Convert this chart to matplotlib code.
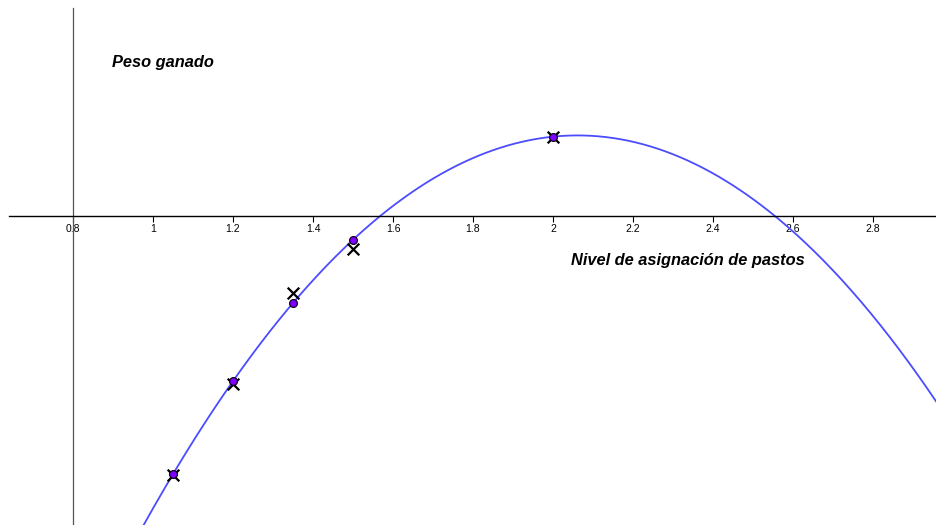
import matplotlib
matplotlib.use('Agg')
import matplotlib.pyplot as plt
import numpy as np

# nivel de asignacion de pastos (x) and peso ganado (y, arbitrary units)
x_data = [1.05, 1.2, 1.35, 1.5, 2.0]
y_observed = [-0.648, -0.421, -0.194, -0.084, 0.1975]
y_fitted = [-0.646, -0.413, -0.218, -0.0605, 0.1975]
x_ticks = [0.8, 1.0, 1.2, 1.4, 1.6, 1.8, 2.0, 2.2, 2.4, 2.6, 2.8]
x_ticklabels = ['0.8', '1', '1.2', '1.4', '1.6', '1.8', '2', '2.2', '2.4', '2.6', '2.8']

plt.rcParams['font.family'] = ['Liberation Sans', 'DejaVu Sans']

fig = plt.figure(figsize=(9.36, 5.25), dpi=100)
ax = fig.add_axes([0, 0, 1, 1])
ax.set_xlim(0.6175, 2.9575)
ax.set_ylim(-0.773, 0.539)

# quadratic through the fitted values
coef = np.polyfit(x_data, y_fitted, 2)
xs = np.linspace(0.6175, 2.9575, 500)
ax.plot(xs, np.polyval(coef, xs), color='#4c4cff', lw=1.3, zorder=2)

ax.scatter(x_data, y_observed, s=70, marker='x', color='black',
           linewidths=1.6, zorder=3)
ax.scatter(x_data, y_fitted, s=32, color='#8000ff', edgecolors='black',
           linewidths=0.8, zorder=4)

# axes through the origin, GeoGebra style
for side in ['top', 'right']:
    ax.spines[side].set_visible(False)
ax.spines['bottom'].set_position(('data', 0))
ax.spines['bottom'].set_bounds(0.6395, 2.9575)
ax.spines['bottom'].set_linewidth(1.0)
ax.spines['left'].set_position(('data', 0.8))
ax.spines['left'].set_bounds(-0.773, 0.519)
ax.spines['left'].set_color('#555555')
ax.spines['left'].set_linewidth(0.9)

ax.set_xticks(x_ticks)
ax.set_xticklabels(x_ticklabels, fontsize=7.5)
ax.tick_params(axis='x', direction='out', length=4, width=0.8, pad=2)
ax.set_yticks([])

ax.text(0.8975, 0.384, 'Peso ganado', fontsize=11.8, fontweight='bold',
        fontstyle='italic', va='center', ha='left')
ax.text(2.045, -0.113, 'Nivel de asignación de pastos', fontsize=11.8,
        fontweight='bold', fontstyle='italic', va='center', ha='left')

fig.savefig('out.png', dpi=100)
